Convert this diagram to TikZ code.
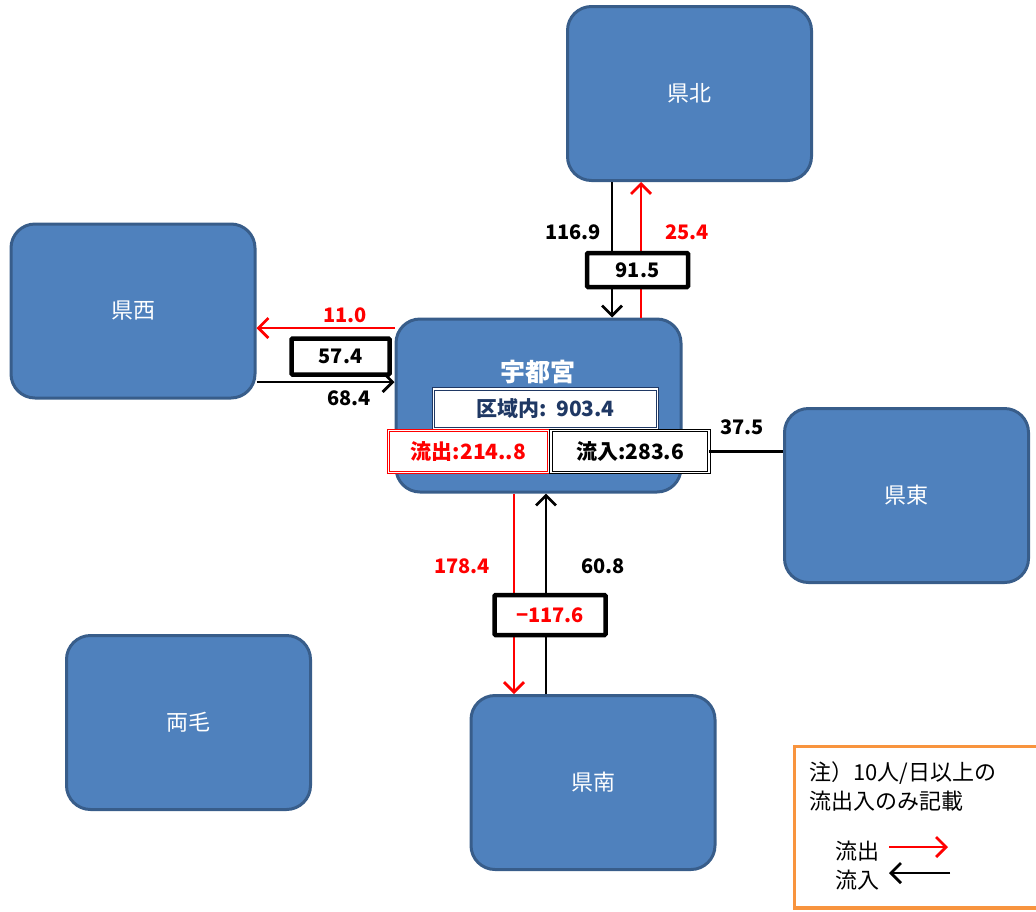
\documentclass[tikz,border=0pt]{standalone}
\usepackage{fontspec}
\setmainfont{Noto Sans CJK JP}
\usetikzlibrary{arrows.meta}
\definecolor{areablue}{RGB}{79,129,189}
\definecolor{areaedge}{RGB}{56,93,138}
\definecolor{navytext}{RGB}{31,56,100}
\definecolor{noteorange}{RGB}{248,148,62}
\begin{document}
\begin{tikzpicture}[x=1pt,y=-1pt,
    area/.style={draw=areaedge,line width=3pt,fill=areablue,rounded corners=24pt,
      minimum width=244pt,minimum height=174pt,text=white,font=\fontsize{22}{26}\selectfont},
    netbox/.style={draw,line width=4.5pt,fill=white,rounded corners=1pt,minimum width=98pt,
      minimum height=34pt,font=\bfseries\fontsize{20}{24}\selectfont},
    sumbox/.style={fill=white,line width=0.9pt,double=white,double distance=1.6pt,
      minimum height=40pt,font=\bfseries\fontsize{21}{25}\selectfont},
    num/.style={font=\bfseries\fontsize{20}{24}\selectfont},
    outflow/.style={red,line width=2.8pt,-{Straight Barb[length=10pt,width=20pt]}},
    inflow/.style={black,line width=2.8pt,-{Straight Barb[length=10pt,width=20pt]}}]
  \useasboundingbox (0,0) rectangle (1036,911);
  \clip (0,0) rectangle (1036,911);
  \node[area] (kenpoku) at (689.5,93.5) {県北};
  \node[area] (kensei) at (133,311) {県西};
  \node[area,minimum width=285pt,minimum height=173pt] (utsu) at (538.5,405.5) {};
  \node[area] (kentou) at (906.5,495.5) {県東};
  \node[area] (ryomo) at (188.5,722.5) {両毛};
  \node[area] (kennan) at (593,782.5) {県南};
  \node[text=white,font=\bfseries\fontsize{25}{30}\selectfont] (utsuname) at (538,372) {宇都宮};
  \node[sumbox,draw=navytext,text=navytext,minimum width=224pt] (kuiki) at (545.5,409) {区域内:\ \ 903.4};
  \node[sumbox,draw=red,text=red,minimum width=160pt,minimum height=42pt] (ryushutsu) at (468.5,451.5) {流出:214..8};
  \node[sumbox,draw=black,minimum width=158pt,minimum height=42pt] (ryunyu) at (630,451.5) {流入:283.6};
  \draw[inflow] (kenpoku.south -| 612,0) -- (utsu.north -| 612,0);
  \draw[outflow] (utsu.north -| 641,0) -- (kenpoku.south -| 641,0);
  \draw[outflow] (utsu.west |- 0,328) -- (kensei.east |- 0,328);
  \draw[inflow] (kensei.east |- 0,382) -- (utsu.west |- 0,382);
  \draw[outflow] (utsu.south -| 514,0) -- (kennan.north -| 514,0);
  \draw[inflow] (kennan.north -| 546,0) -- (utsu.south -| 546,0);
  \draw[line width=2.8pt] (ryunyu.east) -- (kentou.west |- ryunyu.east);
  \node[netbox,minimum width=101pt] (netnorth) at (637.5,270) {91.5};
  \node[netbox,minimum height=36pt] (netwest) at (340.5,356.5) {57.4};
  \node[netbox,text=red,minimum width=111pt,minimum height=40pt] (netsouth) at (550,615) {−117.6};
  \node[num] (n1169) at (573,232) {116.9};
  \node[num,text=red] (n254) at (687,232) {25.4};
  \node[num,text=red] (n110) at (345,315) {11.0};
  \node[num] (n684) at (349,398) {68.4};
  \node[num,text=red] (n1784) at (462,566) {178.4};
  \node[num] (n608) at (603,566) {60.8};
  \node[num] (n375) at (742,427) {37.5};
  \draw[noteorange,line width=3.5pt] (794.5,746.5) rectangle (1045,908);
  \node[anchor=west,align=left,font=\fontsize{22}{29}\selectfont] (notetext) at (806,786.5) {注）10人/日以上の\\流出入のみ記載};
  \node[font=\fontsize{22}{25}\selectfont] (outlbl) at (857,851) {流出};
  \node[font=\fontsize{22}{25}\selectfont] (inlbl) at (857,880) {流入};
  \coordinate (outbeg) at (889,847);
  \coordinate (outend) at (948,847);
  \coordinate (inbeg) at (950,873);
  \coordinate (inend) at (889,873);
  \draw[outflow] (outbeg) -- (outend);
  \draw[inflow] (inbeg) -- (inend);
\end{tikzpicture}
\end{document}
